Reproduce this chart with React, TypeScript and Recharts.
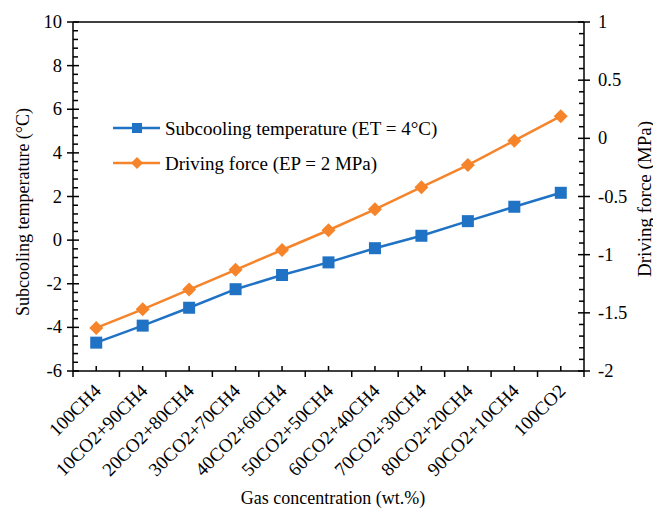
import React from 'react';
import { LineChart, Line, XAxis, YAxis, ReferenceLine, Label } from 'recharts';

const categories = [
  '100CH4',
  '10CO2+90CH4',
  '20CO2+80CH4',
  '30CO2+70CH4',
  '40CO2+60CH4',
  '50CO2+50CH4',
  '60CO2+40CH4',
  '70CO2+30CH4',
  '80CO2+20CH4',
  '90CO2+10CH4',
  '100CO2',
];
const subcoolingTemp = [-4.7, -3.92, -3.1, -2.25, -1.6, -1.02, -0.37, 0.2, 0.87, 1.53, 2.17];
const drivingForce = [-1.63, -1.47, -1.3, -1.13, -0.96, -0.79, -0.61, -0.42, -0.23, -0.02, 0.19];
const leftMajorTicks = [-6, -4, -2, 0, 2, 4, 6, 8, 10];
const rightMajorTicks = [-2, -1.5, -1, -0.5, 0, 0.5, 1];

const BLUE = '#1f72c4';
const ORANGE = '#f5842a';
const serif = { fontFamily: 'Liberation Serif, Times New Roman, DejaVu Serif, serif' };

const data = categories.map((name, i) => ({
  idx: i,
  name,
  subcooling: subcoolingTemp[i],
  force: drivingForce[i],
}));

// 4 minor ticks between each pair of majors
const withMinors = (majors: number[]) =>
  majors.flatMap((v, i) =>
    i === majors.length - 1 ? [v] : [0, 1, 2, 3, 4].map((k) => v + (k * (majors[i + 1] - v)) / 5)
  );
const isMajor = (majors: number[], v: number) => majors.some((m) => Math.abs(m - v) < 1e-6);

const leftTicks = withMinors(leftMajorTicks);
const rightTicks = withMinors(rightMajorTicks);
const xTicks = [-0.5, ...categories.flatMap((_, i) => [i, i + 0.5])];

const fmt = (v: number) => String(Math.round(v * 10) / 10);

const LeftTick = ({ x, y, payload }: any) => {
  const v = payload.value;
  if (!isMajor(leftMajorTicks, v)) {
    return <line x1={x} x2={x + 5} y1={y} y2={y} stroke="#000" strokeWidth={1.5} />;
  }
  return (
    <g>
      <line x1={x - 6} x2={x + 6} y1={y} y2={y} stroke="#000" strokeWidth={1.5} />
      <text x={x - 11} y={y} textAnchor="end" dominantBaseline="central" style={serif} fontSize={18.5} fill="#000">
        {fmt(v)}
      </text>
    </g>
  );
};

const RightTick = ({ x, y, payload }: any) => {
  const v = payload.value;
  if (!isMajor(rightMajorTicks, v)) {
    return <line x1={x - 5} x2={x} y1={y} y2={y} stroke="#000" strokeWidth={1.5} />;
  }
  return (
    <g>
      <line x1={x - 6} x2={x + 6} y1={y} y2={y} stroke="#000" strokeWidth={1.5} />
      <text x={x + 14} y={y} textAnchor="start" dominantBaseline="central" style={serif} fontSize={18.5} fill="#000">
        {fmt(v)}
      </text>
    </g>
  );
};

const XTick = ({ x, y, payload }: any) => {
  const v = payload.value;
  const i = Math.round(v);
  if (Math.abs(v - i) > 0.01) {
    return <line x1={x} x2={x} y1={y} y2={y + 6} stroke="#000" strokeWidth={1.5} />;
  }
  const tx = x + 6;
  const ty = y + 21;
  return (
    <g>
      <line x1={x} x2={x} y1={y} y2={y - 5} stroke="#000" strokeWidth={1.5} />
      <text x={tx} y={ty} textAnchor="end" transform={`rotate(-45 ${tx} ${ty})`} style={serif} fontSize={19} fill="#000">
        {categories[i]}
      </text>
    </g>
  );
};

const SquareDot = ({ cx, cy, index }: any) => (
  <rect key={`sq-${index}`} x={cx - 6} y={cy - 6} width={12} height={12} fill={BLUE} />
);

const DiamondDot = ({ cx, cy, index }: any) => (
  <polygon
    key={`dm-${index}`}
    points={`${cx},${cy - 7} ${cx + 7},${cy} ${cx},${cy + 7} ${cx - 7},${cy}`}
    fill={ORANGE}
  />
);

export default function App() {
  return (
    <div style={{ position: 'absolute', left: 0, top: 0, width: 653, height: 510, background: '#fff', ...serif }}>
      <LineChart width={653} height={510} data={data} margin={{ top: 22, right: 0, bottom: 0, left: 0 }}>
        <XAxis
          dataKey="idx"
          type="number"
          domain={[-0.5, 10.5]}
          ticks={xTicks}
          interval={0}
          height={139}
          tickSize={0}
          tickMargin={0}
          tickLine={false}
          axisLine={{ stroke: '#000', strokeWidth: 1.5 }}
          tick={XTick}
        >
          <Label
            content={() => (
              <text x={333} y={504} textAnchor="middle" style={serif} fontSize={18} fill="#000">
                Gas concentration (wt.%)
              </text>
            )}
          />
        </XAxis>
        <YAxis
          yAxisId="left"
          domain={[-6, 10]}
          ticks={leftTicks}
          interval={0}
          width={73}
          tickSize={0}
          tickMargin={0}
          tickLine={false}
          axisLine={{ stroke: '#000', strokeWidth: 1.5 }}
          tick={LeftTick}
        >
          <Label
            content={() => (
              <text
                x={23}
                y={212}
                textAnchor="middle"
                dominantBaseline="central"
                transform="rotate(-90 23 212)"
                style={serif}
                fontSize={18}
                fill="#000"
              >
                Subcooling temperature (°C)
              </text>
            )}
          />
        </YAxis>
        <YAxis
          yAxisId="right"
          orientation="right"
          domain={[-2, 1]}
          ticks={rightTicks}
          interval={0}
          width={69}
          tickSize={0}
          tickMargin={0}
          tickLine={false}
          axisLine={{ stroke: '#000', strokeWidth: 1.5 }}
          tick={RightTick}
        >
          <Label
            content={() => (
              <text
                x={644}
                y={199}
                textAnchor="middle"
                dominantBaseline="central"
                transform="rotate(-90 644 199)"
                style={serif}
                fontSize={19}
                fill="#000"
              >
                Driving force (MPa)
              </text>
            )}
          />
        </YAxis>
        <ReferenceLine yAxisId="left" y={10} stroke="#000" strokeWidth={1.5} />
        <Line
          yAxisId="left"
          dataKey="subcooling"
          stroke={BLUE}
          strokeWidth={2.5}
          dot={SquareDot}
          activeDot={false}
          isAnimationActive={false}
        />
        <Line
          yAxisId="right"
          dataKey="force"
          stroke={ORANGE}
          strokeWidth={2.5}
          dot={DiamondDot}
          activeDot={false}
          isAnimationActive={false}
        />
      </LineChart>
      <svg width={653} height={510} style={{ position: 'absolute', left: 0, top: 0, pointerEvents: 'none' }}>
        <line x1={113} x2={160} y1={128} y2={128} stroke={BLUE} strokeWidth={2.5} />
        <rect x={132} y={123} width={10} height={10} fill={BLUE} />
        <text x={165} y={128} dominantBaseline="central" style={serif} fontSize={19} fill="#000">
          Subcooling temperature (ET = 4°C)
        </text>
        <line x1={113} x2={160} y1={163} y2={163} stroke={ORANGE} strokeWidth={2.5} />
        <polygon points="137,157 143,163 137,169 131,163" fill={ORANGE} />
        <text x={165} y={163} dominantBaseline="central" style={serif} fontSize={19} fill="#000">
          Driving force (EP = 2 MPa)
        </text>
      </svg>
    </div>
  );
}
